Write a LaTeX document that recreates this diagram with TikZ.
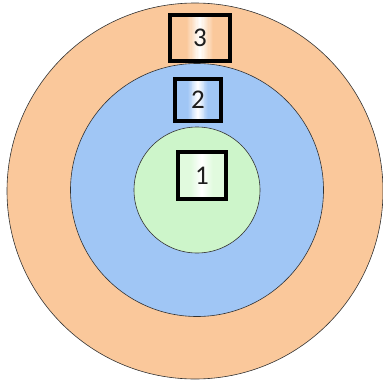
\documentclass[tikz,border=0pt]{standalone}
\usepackage{fontspec}
\setmainfont{Carlito}
\usetikzlibrary{calc}
\definecolor{ringorange}{RGB}{250,200,155}
\definecolor{ringblue}{RGB}{160,198,245}
\definecolor{ringgreen}{RGB}{205,245,202}
\definecolor{boxgreen}{RGB}{225,250,222}
\definecolor{txt}{RGB}{30,30,30}
\begin{document}
\begin{tikzpicture}[x=1pt,y=-1pt,
  ring/.style={circle,draw=black!80,line width=0.6pt,inner sep=0pt},
  band/.style={path picture={
    \coordinate (pSW) at (path picture bounding box.south west);
    \coordinate (pSE) at (path picture bounding box.south east);
    \coordinate (pNW) at (path picture bounding box.north west);
    \coordinate (pNE) at (path picture bounding box.north east);
    \fill[#1] (pSW) rectangle (pNE);
    \foreach \si in {0,...,21}{
      \pgfmathsetmacro{\sx}{0.28+0.02*\si}
      \pgfmathsetmacro{\ex}{\sx+0.021}
      \pgfmathsetmacro{\sw}{max(0,100-abs(\sx+0.01-0.5)*450)}
      \fill[white!\sw!#1] ($(pSW)!\sx!(pSE)$) rectangle ($(pNW)!\ex!(pNE)$);}
  }},
  lbox/.style={draw=black,line width=4.5pt,inner sep=0pt,text=txt,font=\fontsize{27}{27}\selectfont}]
\useasboundingbox (0,0) rectangle (383,383);
\fill[white] (0,0) rectangle (383,383);
\node[ring,fill=ringorange,minimum size=376pt] (outer) at (195,191) {};
\node[ring,fill=ringblue,minimum size=253pt] (middle) at (197,190) {};
\node[ring,fill=ringgreen,minimum size=126pt] (inner) at (197,190) {};
\node[lbox,minimum width=60pt,minimum height=46pt,band=ringorange] (b3) at (200,38) {3};
\node[lbox,minimum width=46pt,minimum height=42pt,band=ringblue] (b2) at (198,100) {2};
\node[lbox,minimum width=48pt,minimum height=47pt,band=boxgreen] (b1) at (202,175.5) {1};
\end{tikzpicture}
\end{document}
